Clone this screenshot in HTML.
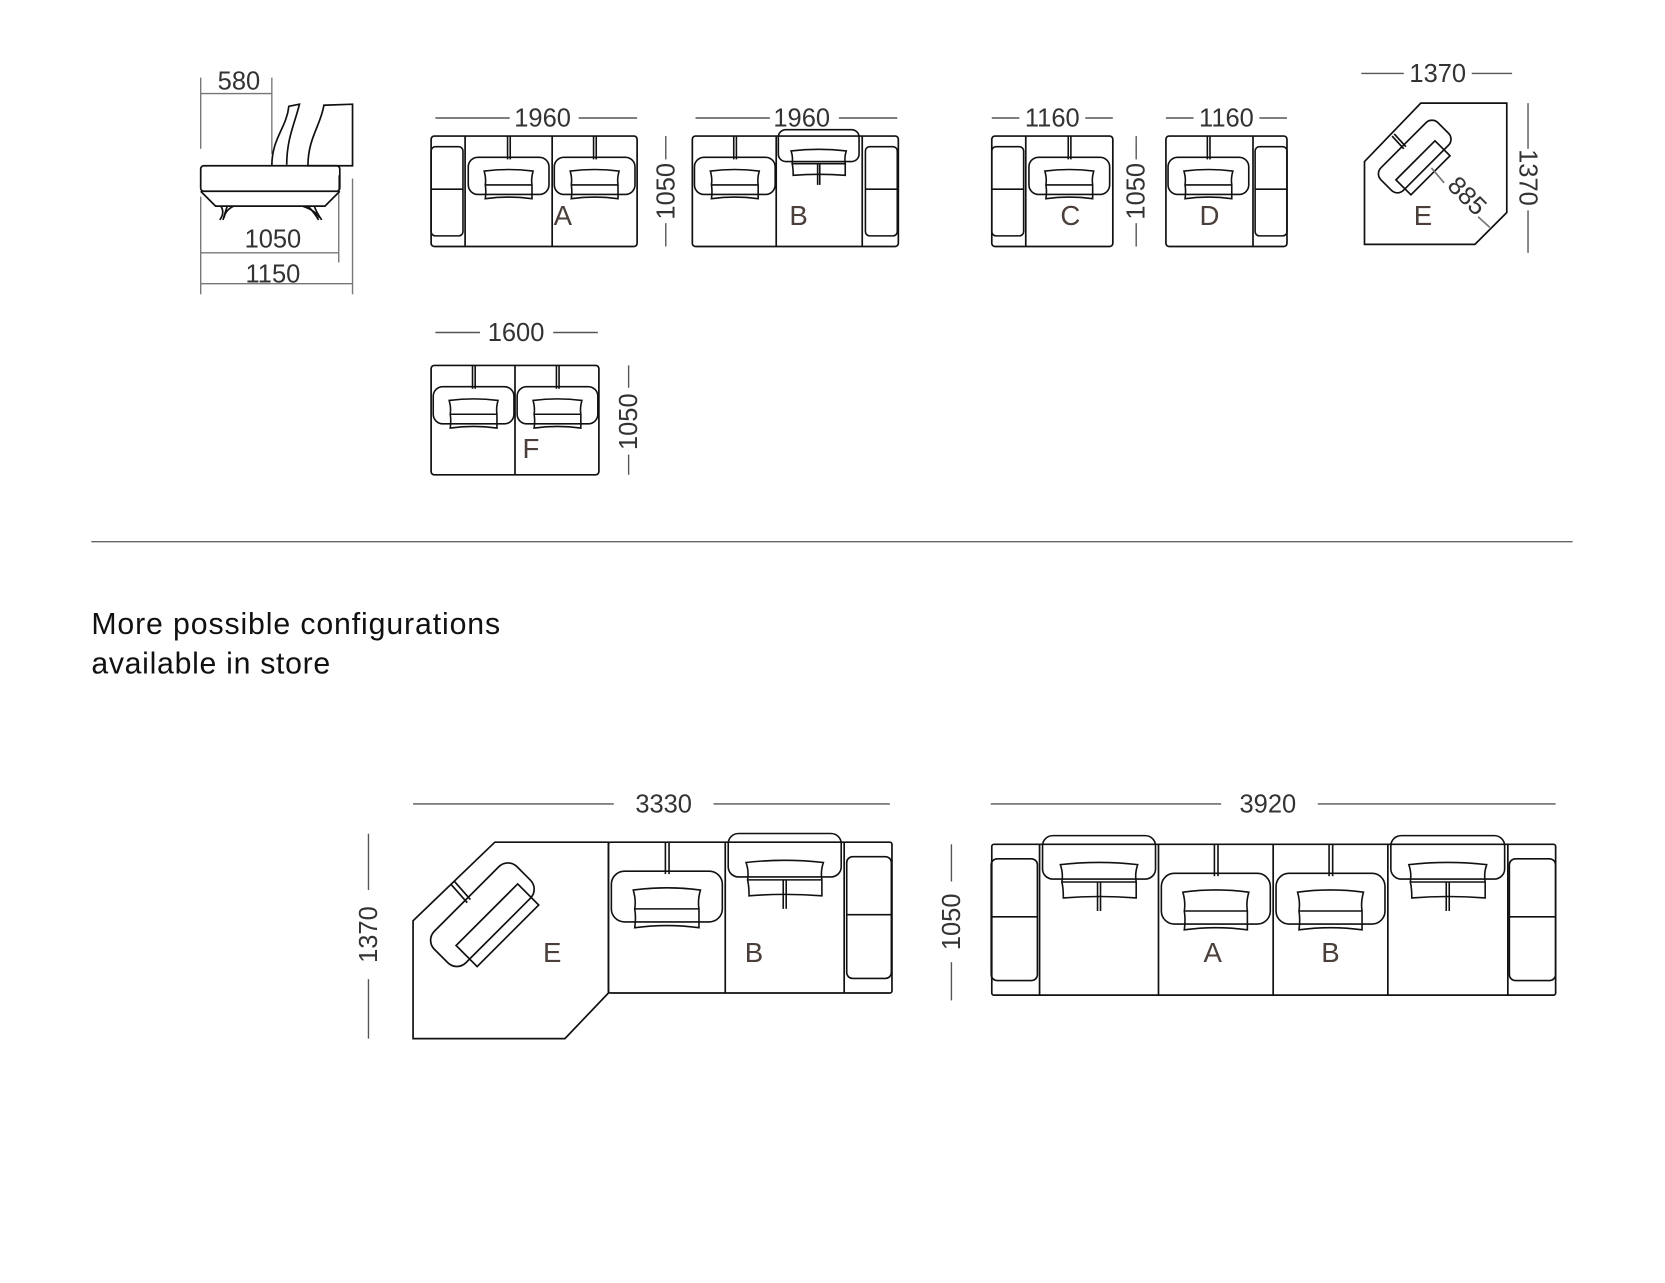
<!DOCTYPE html>
<html><head><meta charset="utf-8"><style>
html,body{margin:0;padding:0;background:#fff}
svg{display:block}
.d{font-family:"Liberation Sans",sans-serif;font-size:24px;fill:#333;text-anchor:middle}
.l{font-family:"Liberation Sans",sans-serif;font-size:26px;fill:#4a3f3a;text-anchor:middle}
.s *{vector-effect:non-scaling-stroke}
</style></head><body>
<svg width="1665" height="1283" viewBox="0 0 1568 1208" xmlns="http://www.w3.org/2000/svg">
<defs>
<g id="seat" class="s" fill="none" stroke="#111" stroke-width="1.6">
 <line x1="39" y1="0" x2="39" y2="22"/><line x1="41.5" y1="0" x2="41.5" y2="22"/>
 <rect x="2" y="20" width="76" height="35" rx="9"/>
 <path d="M17,33 Q40,30 63,33 Q61,40 62,46 L62,59 Q40,56 18,59 Q19,52 18,46 Q19,40 17,33Z M18,46 L62,46"/>
</g>
<g id="rseat" class="s" fill="none" stroke="#111" stroke-width="1.6">
 <rect x="2" y="-6" width="76" height="30" rx="7"/>
 <path d="M14,14 Q40,11 66,14 Q64,20 65,26 L65,37 Q40,35 16,37 Q16,30 15,26 Q16,20 14,14Z M15,26 L65,26"/>
 <line x1="39" y1="26" x2="39" y2="46"/><line x1="41" y1="26" x2="41" y2="46"/>
</g>
<g id="arm" class="s" fill="none" stroke="#111" stroke-width="1.6">
 <rect x="1" y="10" width="30" height="84" rx="4"/><line x1="1" y1="50" x2="31" y2="50"/>
</g>
</defs>
<g fill="none" stroke="#111" stroke-width="1.6">
<g stroke="#777" stroke-width="1.3">
<line x1="189" y1="73" x2="189" y2="140"/><line x1="256" y1="73" x2="256" y2="145"/><line x1="189" y1="88" x2="256" y2="88"/>
<line x1="189" y1="238" x2="319" y2="238"/><line x1="319" y1="165" x2="319" y2="247"/>
<line x1="189" y1="267" x2="332" y2="267"/><line x1="189" y1="185" x2="189" y2="277"/><line x1="332" y1="168" x2="332" y2="277"/>
</g>
<rect x="189" y="156" width="131" height="24" rx="3"/>
<path d="M189,180 L203,194 L306,194 L320,180"/>
<path d="M208,194 Q212,200 207,207 M214,194 Q212,200 210,207 M220,194 Q212,198 211,205"/>
<path d="M290,194 Q296,200 300,207 M296,194 Q298,200 303,207 M285,194 Q297,198 301,205"/>
<path d="M256,156 C256,130 270,120 272,100 L282,98 C278,115 270,130 270,155"/>
<path d="M290,156 C290,130 302,118 305,99 L332,98 L332,156 Z"/>
<rect x="406" y="128" width="194" height="104" rx="3"/>
<line x1="438" y1="128" x2="438" y2="232"/><line x1="520" y1="128" x2="520" y2="232"/>
<use href="#arm" transform="translate(405,128)"/>
<use href="#seat" transform="translate(439,128)"/><use href="#seat" transform="translate(520,128)"/>
<rect x="652" y="128" width="194" height="104" rx="3"/>
<line x1="731" y1="128" x2="731" y2="232"/><line x1="812" y1="128" x2="812" y2="232"/>
<use href="#seat" transform="translate(652,128)"/><use href="#rseat" transform="translate(731,128)"/>
<use href="#arm" transform="translate(814,128)"/>
<rect x="934" y="128" width="114" height="104" rx="3"/>
<line x1="966" y1="128" x2="966" y2="232"/>
<use href="#arm" transform="translate(933,128)"/><use href="#seat" transform="translate(967,128)"/>
<rect x="1098" y="128" width="114" height="104" rx="3"/>
<line x1="1180" y1="128" x2="1180" y2="232"/>
<use href="#seat" transform="translate(1098,128)"/><use href="#arm" transform="translate(1181,128)"/>
<path d="M1338,97 L1419,97 L1419,200 L1389,230 L1285,230 L1285,152 Z"/>
<g transform="translate(1333,148) rotate(-45)">
<rect x="-38" y="-16" width="76" height="30" rx="8"/>
<rect x="-28" y="2" width="52" height="20"/>
</g>
<line x1="1311" y1="128" x2="1322" y2="140"/><line x1="1313" y1="126" x2="1324" y2="138"/>
<line x1="1348" y1="158" x2="1360" y2="172" stroke="#777"/><line x1="1392" y1="204" x2="1403" y2="214" stroke="#777"/>
<rect x="406" y="344" width="158" height="103" rx="3"/>
<line x1="485" y1="344" x2="485" y2="447"/>
<use href="#seat" transform="translate(406,344)"/><use href="#seat" transform="translate(485,344)"/>
<path d="M466,793 L573,793 L573,935 L532,978 L389,978 L389,867 Z"/>
<rect x="573" y="793" width="267" height="142" rx="2"/>
<line x1="683" y1="793" x2="683" y2="935"/><line x1="795" y1="793" x2="795" y2="935"/>
<use href="#seat" transform="translate(573,793) scale(1.375,1.365)"/>
<use href="#rseat" transform="translate(683,793) scale(1.4,1.365)"/>
<use href="#arm" transform="translate(796,793) scale(1.4,1.365)"/>
<g transform="translate(455,862) rotate(-45)">
<rect x="-55" y="-22" width="110" height="42" rx="12"/>
<rect x="-38" y="2" width="82" height="28"/>
</g>
<line x1="425" y1="833" x2="440" y2="850"/><line x1="428" y1="830" x2="443" y2="847"/>
<rect x="934" y="795" width="531" height="142" rx="2"/>
<line x1="979" y1="795" x2="979" y2="937"/><line x1="1091" y1="795" x2="1091" y2="937"/><line x1="1199" y1="795" x2="1199" y2="937"/><line x1="1307" y1="795" x2="1307" y2="937"/><line x1="1420" y1="795" x2="1420" y2="937"/>
<use href="#arm" transform="translate(932,795) scale(1.45,1.365)"/>
<use href="#rseat" transform="translate(979,795) scale(1.4,1.365)"/>
<use href="#seat" transform="translate(1091,795) scale(1.35,1.365)"/>
<use href="#seat" transform="translate(1199,795) scale(1.35,1.365)"/>
<use href="#rseat" transform="translate(1307,795) scale(1.41,1.365)"/>
<use href="#arm" transform="translate(1420,795) scale(1.45,1.365)"/>
</g>
<g stroke="#555" stroke-width="1.3">
<line x1="410" y1="111" x2="480" y2="111"/><line x1="545" y1="111" x2="600" y2="111"/>
<line x1="655" y1="111" x2="725" y2="111"/><line x1="790" y1="111" x2="845" y2="111"/>
<line x1="627" y1="128" x2="627" y2="150"/><line x1="627" y1="210" x2="627" y2="232"/>
<line x1="934" y1="111" x2="960" y2="111"/><line x1="1022" y1="111" x2="1048" y2="111"/>
<line x1="1098" y1="111" x2="1124" y2="111"/><line x1="1186" y1="111" x2="1212" y2="111"/>
<line x1="1070" y1="128" x2="1070" y2="150"/><line x1="1070" y1="210" x2="1070" y2="232"/>
<line x1="1282" y1="69" x2="1322" y2="69"/><line x1="1386" y1="69" x2="1424" y2="69"/>
<line x1="1439" y1="97" x2="1439" y2="140"/><line x1="1439" y1="198" x2="1439" y2="238"/>
<line x1="410" y1="313" x2="452" y2="313"/><line x1="521" y1="313" x2="563" y2="313"/>
<line x1="592" y1="344" x2="592" y2="365"/><line x1="592" y1="428" x2="592" y2="447"/>
<line x1="86" y1="510" x2="1481" y2="510" stroke="#666"/>
<line x1="389" y1="757" x2="578" y2="757"/><line x1="672" y1="757" x2="838" y2="757"/>
<line x1="347" y1="785" x2="347" y2="838"/><line x1="347" y1="922" x2="347" y2="978"/>
<line x1="933" y1="757" x2="1150" y2="757"/><line x1="1241" y1="757" x2="1465" y2="757"/>
<line x1="896" y1="795" x2="896" y2="830"/><line x1="896" y1="906" x2="896" y2="942"/>
</g>
<text class="d" x="225" y="84">580</text>
<text class="d" x="257" y="233">1050</text>
<text class="d" x="257" y="266">1150</text>
<text class="d" x="511" y="119">1960</text>
<text class="d" x="755" y="119">1960</text>
<text class="d" x="991" y="119">1160</text>
<text class="d" x="1155" y="119">1160</text>
<text class="d" x="1354" y="77">1370</text>
<text class="d" x="486" y="321">1600</text>
<text class="d" transform="translate(635,180) rotate(-90)">1050</text>
<text class="d" transform="translate(1078,180) rotate(-90)">1050</text>
<text class="d" transform="translate(1431,167) rotate(90)">1370</text>
<text class="d" transform="translate(600,397) rotate(-90)">1050</text>
<text class="d" transform="translate(1376,190) rotate(45)">885</text>
<text class="d" x="625" y="765">3330</text>
<text class="d" x="1194" y="765">3920</text>
<text class="d" transform="translate(355,880) rotate(-90)">1370</text>
<text class="d" transform="translate(904,868) rotate(-90)">1050</text>
<text class="l" x="530" y="212">A</text>
<text class="l" x="752" y="212">B</text>
<text class="l" x="1008" y="212">C</text>
<text class="l" x="1139" y="212">D</text>
<text class="l" x="1340" y="212">E</text>
<text class="l" x="500" y="431">F</text>
<text class="l" x="520" y="906">E</text>
<text class="l" x="710" y="906">B</text>
<text class="l" x="1142" y="906">A</text>
<text class="l" x="1253" y="906">B</text>
<text x="86" y="597" font-family="Liberation Sans, sans-serif" font-size="28.5" fill="#111" textLength="385">More possible configurations</text>
<text x="86" y="634" font-family="Liberation Sans, sans-serif" font-size="28.5" fill="#111" textLength="225">available in store</text>
</svg>
</body></html>
